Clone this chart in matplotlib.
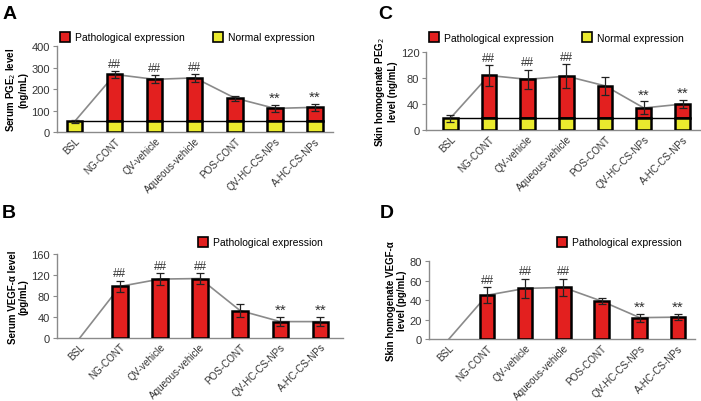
import numpy as np
import matplotlib.pyplot as plt
from matplotlib.lines import Line2D

plt.rcParams['font.family'] = ['Liberation Sans', 'DejaVu Sans']

groups = ['BSL', 'NG-CONT', 'QV-vehicle', 'Aqueous-vehicle', 'POS-CONT',
          'QV-HC-CS-NPs', 'A-HC-CS-NPs']

# A: serum PGE2 (ng/mL)
pge_serum = [50, 268, 245, 252, 158, 110, 115]
pge_serum_err = [6, 16, 18, 18, 12, 15, 15]
pge_serum_normal = 50
# C: skin homogenate PGE2 (ng/mL)
pge_skin = [18, 84, 78, 83, 68, 34, 40]
pge_skin_err = [5, 16, 15, 18, 14, 10, 6]
pge_skin_normal = 18
# B: serum VEGF-a (pg/mL)
vegf_serum = [0, 98, 112, 113, 52, 31, 31]
vegf_serum_err = [0, 11, 12, 10, 12, 9, 9]
# D: skin homogenate VEGF-a (pg/mL)
vegf_skin = [0, 45, 52, 53, 39, 22, 22.5]
vegf_skin_err = [0, 8, 10, 9, 3, 4, 3]

marks = ['', '##', '##', '##', '', '**', '**']

RED = '#e3201f'
YEL = '#eaea2e'
GREY = '#8a8a8a'
TXT = '#333333'

fig = plt.figure(figsize=(7.01, 4.02), dpi=100)


def panel(rect, xlim, vals, errs, ymax, yticks, ylabel, normal=None):
    ax = fig.add_axes(rect)
    x = np.arange(len(vals))
    vals = np.array(vals, dtype=float)
    errs = np.array(errs, dtype=float)
    w = 0.38
    if normal is not None:
        ax.bar(x[1:], vals[1:] - normal, w, bottom=normal, color=RED,
               edgecolor='black', linewidth=1.8, zorder=3)
        ax.bar(x, [normal] * len(x), w, color=YEL, edgecolor='black',
               linewidth=1.8, zorder=3)
        ax.plot([x[0], x[-1]], [normal, normal], color='black', lw=1, zorder=2)
    else:
        ax.bar(x[1:], vals[1:], w, color=RED, edgecolor='black',
               linewidth=1.8, zorder=3)
    ax.plot(x, vals, color=GREY, lw=1.2, zorder=2)
    m = errs > 0
    ax.errorbar(x[m], vals[m], yerr=errs[m], fmt='none', ecolor='#222222',
                elinewidth=0.9, capsize=3, capthick=0.9, zorder=4)
    for xi, v, e, t in zip(x, vals, errs, marks):
        if t == '##':
            ax.text(xi, v + e + ymax * 0.015, t, ha='center', va='bottom',
                    fontsize=8.5, color=TXT)
        elif t:
            ax.text(xi, v + e + ymax * 0.0, t, ha='center', va='bottom',
                    fontsize=11, color=TXT)
    ax.set_xlim(*xlim)
    ax.set_ylim(0, ymax)
    ax.set_yticks(yticks)
    ax.set_xticks(x)
    ax.set_xticklabels(groups, rotation=45, ha='right', rotation_mode='anchor',
                       fontsize=7.1, color=TXT)
    ax.tick_params(axis='x', length=0, pad=2.5)
    ax.tick_params(axis='y', length=3, width=0.8, color=GREY, labelsize=8,
                   labelcolor=TXT, pad=2)
    for s in ['top', 'right']:
        ax.spines[s].set_visible(False)
    for s in ['left', 'bottom']:
        ax.spines[s].set_color(GREY)
        ax.spines[s].set_linewidth(1)
    ax.set_ylabel(ylabel, fontsize=7, fontweight='bold', labelpad=2,
                  linespacing=1.1)
    return ax


def legend(ax, anchor, two=True):
    h = [Line2D([], [], marker='s', ls='', mfc=RED, mec='black', ms=7, mew=1.2,
                label='Pathological expression')]
    if two:
        h.append(Line2D([], [], marker='s', ls='', mfc=YEL, mec='black', ms=7,
                        mew=1.2, label='Normal expression'))
    ax.legend(handles=h, loc='center left', bbox_to_anchor=anchor,
              bbox_transform=fig.transFigure, ncol=2, frameon=False,
              fontsize=7.5, handlelength=0.9, handletextpad=0.5,
              columnspacing=2.8, borderpad=0, borderaxespad=0)


axA = panel([0.081, 0.669, 0.394, 0.214], (-0.45, 6.45), pge_serum,
            pge_serum_err, 400, [0, 100, 200, 300, 400],
            'Serum PGE$_2$ level\n(ng/mL)', normal=pge_serum_normal)
legend(axA, (0.086, 0.905))

axC = panel([0.608, 0.674, 0.39, 0.194], (-0.62, 6.44), pge_skin,
            pge_skin_err, 120, [0, 40, 80, 120],
            'Skin homogenate PEG$_2$\nlevel (ng/mL)', normal=pge_skin_normal)
legend(axC, (0.612, 0.903))

axB = panel([0.081, 0.157, 0.409, 0.209], (-0.575, 6.58), vegf_serum,
            vegf_serum_err, 160, [0, 40, 80, 120, 160],
            'Serum VEGF-\u03b1 level\n(pg/mL)')
legend(axB, (0.283, 0.395), two=False)

axD = panel([0.612, 0.154, 0.379, 0.194], (-0.52, 6.44), vegf_skin,
            vegf_skin_err, 80, [0, 20, 40, 60, 80],
            'Skin homogenate VEGF-\u03b1\nlevel (pg/mL)')
legend(axD, (0.795, 0.395), two=False)

for lbl, xf, yf in [('A', 0.003, 0.985), ('C', 0.54, 0.985),
                    ('B', 0.003, 0.49), ('D', 0.542, 0.49)]:
    fig.text(xf, yf, lbl, fontsize=14, fontweight='bold', va='top', ha='left')

fig.savefig('out.png', dpi=100)
